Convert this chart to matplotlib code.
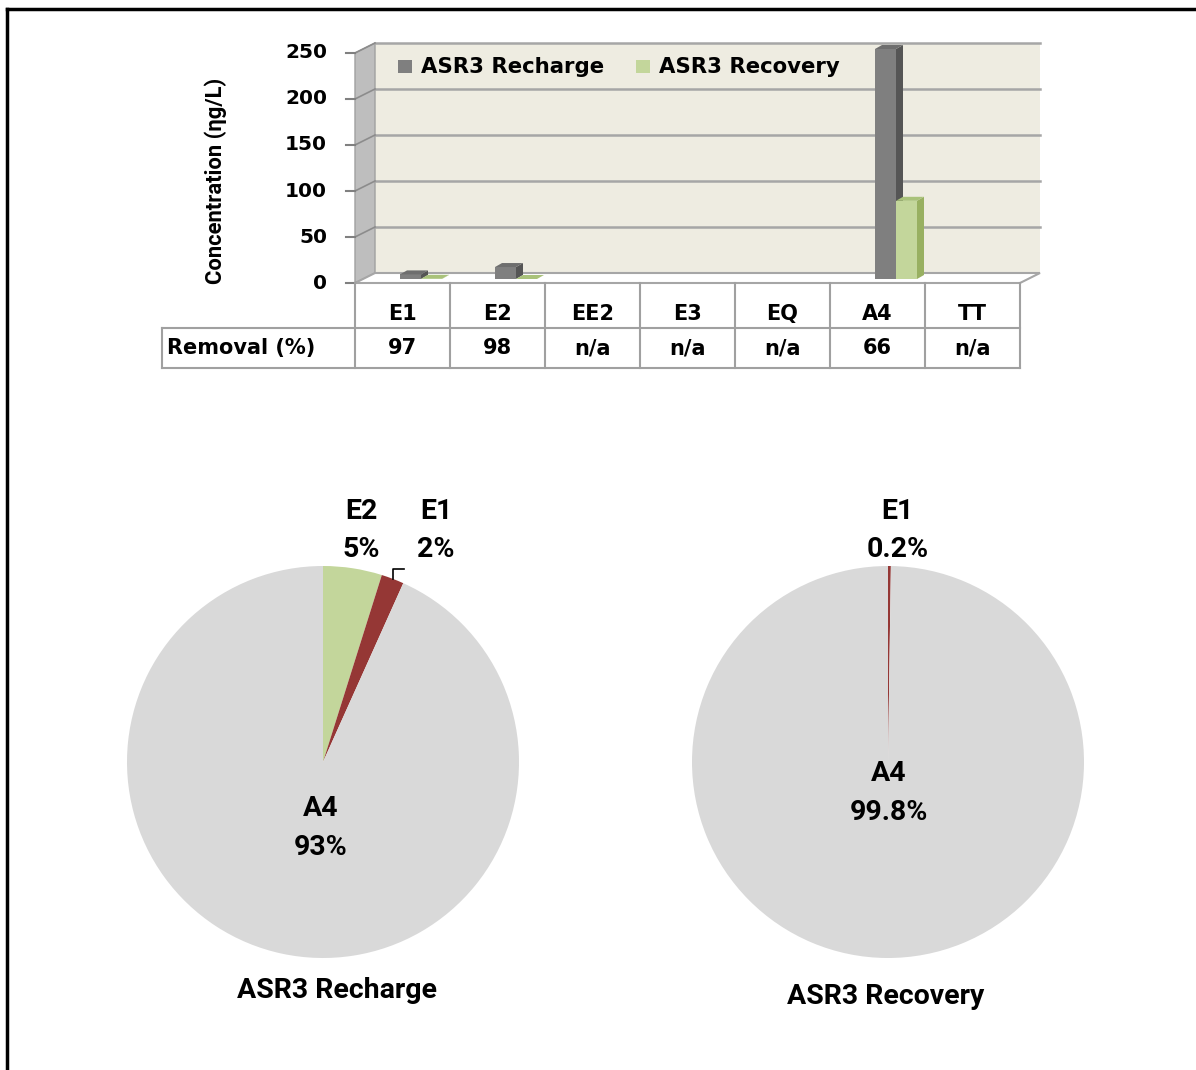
import numpy as np
import matplotlib.pyplot as plt
from matplotlib.patches import Polygon, Rectangle
from matplotlib.lines import Line2D

# concentrations (ng/L) per compound
compounds = ['E1', 'E2', 'EE2', 'E3', 'EQ', 'A4', 'TT']
recharge = [5, 13, np.nan, np.nan, np.nan, 250, np.nan]
recovery = [0.2, 0, np.nan, np.nan, np.nan, 85, np.nan]
removal = ['97', '98', 'n/a', 'n/a', 'n/a', '66', 'n/a']
yticks = [0, 50, 100, 150, 200, 250]

# pie slices, clockwise from 12 o'clock
pie_recharge_names = ['E2', 'E1', 'A4']
pie_recovery_names = ['E1', 'A4']

C_RECH = '#7F7F7F'
C_RECV = '#C3D69B'
C_RED = '#953735'
C_PIE = '#D9D9D9'
BOLD = dict(family='DejaVu Sans', weight='bold', size=14.5)
TBL = dict(family='DejaVu Sans', weight='bold', size=15)
CAL = ['Roboto', 'DejaVu Sans']

W, H = 1196, 1070
fig = plt.figure(figsize=(W / 100, H / 100), dpi=100)


def fbox(x0, y0, x1, y1):
    return [x0 / W, 1 - y1 / H, (x1 - x0) / W, (y1 - y0) / H]


# outer frame (top and left edges)
fig.add_artist(Line2D([7 / W, 1], [1 - 9 / H] * 2, color='black', lw=2.5))
fig.add_artist(Line2D([7 / W] * 2, [0, 1 - 9 / H], color='black', lw=2.5))

# ---- 3D-style column chart ----
ax = fig.add_axes(fbox(355, 53, 1020, 283))
n = len(compounds)
ax.set_xlim(0, n)
ax.set_ylim(0, 250)
ax.axis('off')

px = n / 665.0     # data units per pixel
py = 250 / 230.0
DX, DY = 20 * px, 10 * py


def ypix(v):
    return (283 - v) * py


# back wall, side wall, floor
ax.add_patch(Polygon([(DX, DY), (n + DX, DY), (n + DX, 250 + DY), (DX, 250 + DY)],
                     closed=True, fc='#EEECE1', ec='none', clip_on=False, zorder=1))
ax.add_patch(Polygon([(0, 0), (DX, DY), (DX, 250 + DY), (0, 250)],
                     closed=True, fc='#BEBEBE', ec='#A0A0A0', lw=1, clip_on=False, zorder=1))
for t in yticks[1:]:
    ax.plot([DX, n + DX], [t + DY] * 2, color='#A6A6A6', lw=1.8, clip_on=False, zorder=2)
    ax.plot([0, DX], [t, t + DY], color='#8C8C8C', lw=1.2, clip_on=False, zorder=2)
ax.add_patch(Polygon([(0, 0), (n, 0), (n + DX, DY), (DX, DY)],
                     closed=True, fc='white', ec='#A6A6A6', lw=1.5, clip_on=False, zorder=2))

# y ticks
for t in yticks:
    ax.plot([-9 * px, 0], [t, t], color='#808080', lw=1.5, clip_on=False)
    ax.text(-28 * px, t, str(t), ha='right', va='center', **BOLD)

# bars
bw = 21 * px
base = 4 * py
ddx, ddy = 7 * px, 4 * py


def bar3d(x0, h, front, side, top):
    y1 = base + h
    ax.add_patch(Polygon([(x0 + bw, base), (x0 + bw + ddx, base + ddy),
                          (x0 + bw + ddx, y1 + ddy), (x0 + bw, y1)],
                         closed=True, fc=side, ec='none', clip_on=False, zorder=3))
    ax.add_patch(Polygon([(x0, base), (x0 + bw, base), (x0 + bw, y1), (x0, y1)],
                         closed=True, fc=front, ec='none', clip_on=False, zorder=3))
    ax.add_patch(Polygon([(x0, y1), (x0 + bw, y1), (x0 + bw + ddx, y1 + ddy), (x0 + ddx, y1 + ddy)],
                         closed=True, fc=top, ec='none', clip_on=False, zorder=3))


for i in range(n):
    x0 = i + 0.5 - 2.5 * px
    if not np.isnan(recharge[i]):
        bar3d(x0, recharge[i], C_RECH, '#555555', '#6E6E6E')
    if not np.isnan(recovery[i]):
        bar3d(x0 + bw, recovery[i], C_RECV, '#98B061', '#A9C27A')

# table under the chart
lc = dict(color='#A0A0A0', lw=1.5, clip_on=False)
for i in range(n + 1):
    ax.plot([i, i], [0, ypix(368)], **lc)
x_left = (162 - 355) * px
for yy in (328, 368):
    ax.plot([x_left, n], [ypix(yy)] * 2, **lc)
ax.plot([x_left, x_left], [ypix(328), ypix(368)], **lc)
for i, name in enumerate(compounds):
    ax.text(i + 0.5, ypix(314), name, ha='center', va='center', **TBL)
    ax.text(i + 0.5, ypix(348), removal[i], ha='center', va='center', **TBL)
ax.text((167 - 355) * px, ypix(348), 'Removal (%)', ha='left', va='center', **TBL)

# legend
LEG = dict(family='DejaVu Sans', weight='bold', size=15.3)
fig.add_artist(Rectangle((398 / W, 1 - 73 / H), 14 / W, 13 / H, fc=C_RECH, ec='none'))
fig.text(421 / W, 1 - 67 / H, 'ASR3 Recharge', ha='left', va='center', **LEG)
fig.add_artist(Rectangle((636 / W, 1 - 73 / H), 14 / W, 13 / H, fc=C_RECV, ec='none'))
fig.text(659 / W, 1 - 67 / H, 'ASR3 Recovery', ha='left', va='center', **LEG)

fig.text(216 / W, 1 - 181 / H, 'Concentration (ηg/L)', rotation=90, ha='center', va='center',
         family=CAL, weight='bold', size=15.8)

# ---- pies ----
colors = {'E1': C_RED, 'E2': C_RECV, 'A4': C_PIE}
PF = dict(family=CAL, weight='bold', size=20.5, ha='center', va='center', linespacing=1.55)


def pie(box, names, series, fmt, label_pos, title, title_xy):
    pax = fig.add_axes(box)
    vals = [series[compounds.index(k)] for k in names]
    wedges, _ = pax.pie(vals, colors=[colors[k] for k in names], startangle=90,
                        counterclock=False, radius=1,
                        wedgeprops=dict(linewidth=0))
    pax.set_xlim(-1, 1)
    pax.set_ylim(-1, 1)
    pax.set_aspect('equal')
    total = sum(vals)
    for k, v, w in zip(names, vals, wedges):
        lx, ly = label_pos[k]
        pax.text(lx, ly, k + '\n' + fmt % (100 * v / total) + '%', **PF)
    fig.text(title_xy[0] / W, 1 - title_xy[1] / H, title, family=CAL, weight='bold',
             size=20.5, ha='center', va='center')
    return pax, wedges


pax1, w1 = pie(fbox(127, 566, 519, 958), pie_recharge_names, recharge, '%.0f',
               {'E2': (0.194, 1.18), 'E1': (0.577, 1.18), 'A4': (-0.01, -0.337)},
               'ASR3 Recharge', (337, 990))
# leader line for the small E1 slice
wE1 = w1[1]
ang = np.deg2rad((wE1.theta1 + wE1.theta2) / 2)
sx, sy = np.cos(ang), np.sin(ang)
pax1.plot([sx, sx, sx + 0.06], [sy, 0.985, 0.985], color='black', lw=1.2, clip_on=False)

pie(fbox(692, 566, 1084, 958), pie_recovery_names, recovery, '%.1f',
    {'E1': (0.05, 1.18), 'A4': (0.005, -0.158)},
    'ASR3 Recovery', (886, 997))

fig.savefig('out.png', dpi=100)
